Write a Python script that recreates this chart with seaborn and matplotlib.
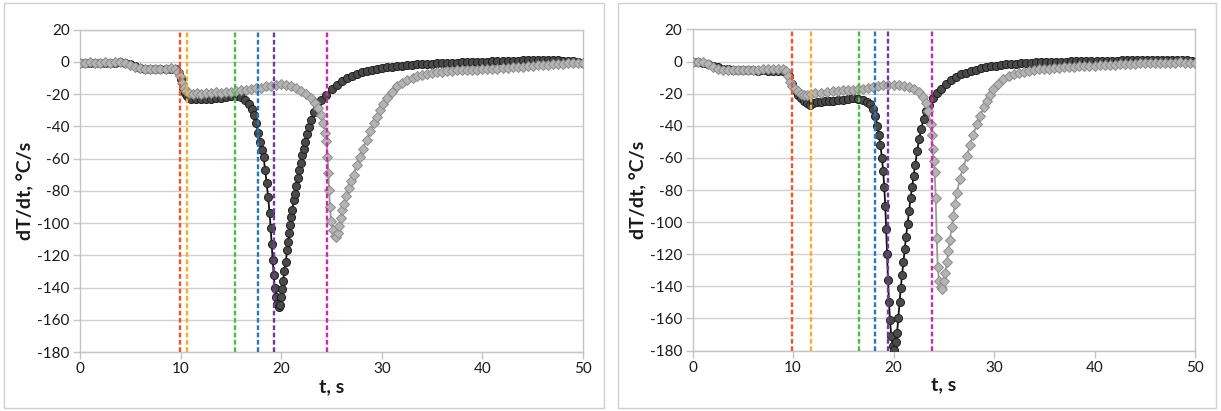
import matplotlib
matplotlib.use("Agg")
import matplotlib.pyplot as plt
from matplotlib.patches import Rectangle
import seaborn as sns
import pandas as pd

# ---------------- data ----------------
# Left panel, dark series (circles)
t_dark_a = [0, 0.5, 1, 1.5, 2, 2.5, 3, 3.5, 4, 4.5, 5, 5.5, 6, 6.5, 7, 7.5, 8, 8.5, 9, 9.5,
            9.8, 10.0, 10.2, 10.4, 10.6, 10.8, 11.0, 11.5, 12, 12.5, 13, 13.5, 14, 14.5, 15, 15.5,
            16, 16.4, 16.8, 17.1, 17.3, 17.5, 17.7, 17.9, 18.1, 18.25, 18.4, 18.55, 18.7, 18.85,
            18.95, 19.05, 19.15, 19.25, 19.35, 19.45, 19.6, 19.75, 19.9, 20.0, 20.1, 20.2, 20.3,
            20.45, 20.6, 20.7, 20.8, 20.9, 21.0, 21.1, 21.25, 21.35, 21.5, 21.65, 21.8, 21.95,
            22.1, 22.25, 22.4, 22.6, 22.8, 23.0, 23.3, 23.6, 24.0, 24.5, 25.0, 25.5, 26.0, 26.5,
            27, 27.5, 28, 28.5, 29, 29.5, 30, 30.5, 31, 31.5, 32, 32.5, 33, 33.5, 34, 34.5, 35,
            35.5, 36, 36.5, 37, 37.5, 38, 38.5, 39, 39.5, 40, 40.5, 41, 41.5, 42, 42.5, 43, 43.5,
            44, 44.5, 45, 45.5, 46, 46.5, 47, 47.5, 48, 48.5, 49, 49.5, 50]
v_dark_a = [-0.5, -1, -0.8, -1, -0.6, -0.8, -0.5, -0.7, -0.4, -0.6, -1.5, -2.8, -3.8, -4.2, -4.3,
            -4.2, -4.4, -4.2, -4.3, -4.8, -7, -11, -16, -19.5, -21.5, -22.5, -23, -23.4, -23.3,
            -23, -22.8, -22.5, -22.2, -21.8, -21.4, -21, -22, -23.5, -26, -29, -33, -38, -44, -50,
            -55, -59, -67, -75, -84, -94, -103, -113, -123, -132, -140, -146, -150, -152, -151,
            -146, -141, -136, -130, -124, -117, -112, -106, -101, -96, -92, -86, -82, -77, -72,
            -67, -63, -58, -54, -50, -45, -40.5, -36, -31, -27.5, -24, -20.5, -17, -14.5, -12,
            -10, -8.8, -7.6, -6.6, -5.8, -5, -4.4, -3.8, -3.4, -3.0, -2.7, -2.4, -2.1, -1.9,
            -1.7, -1.5, -1.3, -1.2, -1.0, -0.9, -0.8, -0.6, -0.5, -0.4, -0.3, -0.2, -0.1, 0, 0.1,
            0.2, 0.3, 0.4, 0.5, 0.6, 0.7, 0.8, 0.9, 1.0, 0.9, 1.0, 0.8, 0.9, 0.8, 0.7, 0.6, 0.4,
            0.1, -0.5]

# Left panel, gray series (diamonds)
t_gray_a = [0, 0.5, 1, 1.5, 2, 2.5, 3, 3.5, 4, 4.5, 5, 5.5, 6, 6.5, 7, 7.5, 8, 8.5, 9, 9.4,
            9.7, 9.9, 10.1, 10.3, 10.5, 10.8, 11.2, 11.6, 12, 12.5, 13, 13.5, 14, 14.5, 15, 15.5,
            16, 16.5, 17, 17.5, 18, 18.5, 19, 19.5, 20, 20.5, 21, 21.5, 22, 22.5, 23.0, 23.4,
            23.7, 24.0, 24.2, 24.4, 24.5, 24.6, 24.7, 24.75, 24.85, 24.95, 25.1, 25.3, 25.45,
            25.6, 25.75, 25.9, 26.05, 26.2, 26.45, 26.7, 26.95, 27.2, 27.5, 27.8, 28.1, 28.5,
            28.85, 29.2, 29.5, 29.8, 30.15, 30.5, 31.0, 31.5, 32.0, 32.5, 33.1, 33.5, 34, 34.5,
            35, 35.5, 36, 36.5, 37, 37.5, 38, 38.5, 39, 39.5, 40, 40.5, 41, 41.5, 42, 42.5, 43,
            43.5, 44, 44.5, 45, 45.5, 46, 46.5, 47, 47.5, 48, 48.5, 49, 49.5, 50]
v_gray_a = [-0.5, -0.8, -0.4, -0.9, -0.6, -0.3, -0.7, -0.4, -0.2, -0.8, -2, -3.2, -4, -4.5, -4.3,
            -4.6, -4.2, -4.4, -4.0, -4.5, -6.5, -9, -13, -16, -18, -19.2, -19.8, -19.5, -19.8,
            -19.3, -19.5, -19, -19.2, -18.8, -18.5, -18.2, -17.8, -17.3, -17, -16.5, -16, -15.3,
            -14.8, -14.3, -14.1, -14.5, -15.3, -16.5, -18, -20, -22.5, -25.5, -28.5, -33, -38,
            -44, -49, -59, -69, -79.5, -90, -99, -104.5, -108, -108.5, -106, -102, -97, -92, -88,
            -83, -78, -74, -70, -64, -59, -54, -48.5, -43, -38, -34, -30, -26, -22.5, -18.5, -15,
            -13, -11.5, -10, -9, -8, -7.3, -6.8, -6.4, -6.1, -5.8, -5.6, -5.4, -5.2, -5.1, -5.0,
            -4.9, -4.8, -4.6, -4.5, -4.3, -4.0, -3.8, -3.5, -3.2, -3.0, -2.8, -2.5, -2.2, -2.0,
            -1.8, -1.5, -1.3, -1.1, -1.0, -0.8, -0.7, -0.6]

# Right panel, dark series (circles)
t_dark_b = [0, 0.5, 1, 1.5, 2, 2.5, 3, 3.5, 4, 4.5, 5, 5.5, 6, 6.5, 7, 7.5, 8, 8.5, 9, 9.3, 9.6,
            9.9, 10.2, 10.5, 10.8, 11.1, 11.4, 11.7, 12.0, 12.4, 12.8, 13.2, 13.6, 14, 14.5, 15,
            15.5, 16.0, 16.5, 17.0, 17.4, 17.7, 18.0, 18.2, 18.4, 18.55, 18.7, 18.85, 18.97,
            19.08, 19.18, 19.27, 19.36, 19.45, 19.55, 19.65, 19.78, 19.92, 20.08, 20.22, 20.35,
            20.48, 20.6, 20.72, 20.85, 20.97, 21.1, 21.25, 21.4, 21.55, 21.7, 21.85, 22.0, 22.15,
            22.35, 22.55, 22.75, 23.0, 23.25, 23.5, 23.9, 24.3, 24.7, 25.2, 25.7, 26.2, 26.7,
            27.2, 27.7, 28.2, 28.7, 29.2, 29.7, 30.2, 30.7, 31.2, 31.7, 32.2, 32.7, 33.2, 33.7,
            34.2, 34.7, 35.2, 35.7, 36.2, 36.7, 37.2, 37.7, 38.2, 38.7, 39.2, 39.7, 40.2, 40.7,
            41.2, 41.7, 42.2, 42.7, 43.2, 43.7, 44.2, 44.7, 45.2, 45.7, 46.2, 46.7, 47.2, 47.7,
            48.2, 48.7, 49.2, 49.7, 50]
v_dark_b = [-0.5, -0.3, -0.8, -1.5, -2.5, -3.5, -4.3, -4.8, -5, -5.2, -5.3, -5.5, -5.4, -5.6,
            -5.5, -5.7, -5.6, -5.8, -5.8, -6.5, -9, -14, -18, -20.5, -22.5, -24.5, -26, -26.8,
            -25.8, -25.2, -25, -24.8, -24.6, -24.5, -24.2, -23.8, -23.3, -22.8, -23.5, -24.2, -25,
            -26.5, -29.5, -34, -40, -46, -52, -60, -68, -78, -90, -104, -120, -136, -150, -161,
            -171, -177, -179.5, -175, -169, -160, -150, -141, -133, -125, -117, -109, -101, -93,
            -85, -78, -71, -64.5, -56, -48.5, -42, -35.5, -30.5, -27, -22.5, -19.5, -17, -14,
            -11.5, -9.5, -8, -6.8, -5.8, -5, -4.2, -3.6, -3, -2.6, -2.2, -1.8, -1.5, -1.2, -1.0,
            -0.8, -0.6, -0.5, -0.4, -0.3, -0.2, -0.1, 0, 0, 0.1, 0.2, 0.2, 0.3, 0.3, 0.4, 0.4,
            0.5, 0.6, 0.6, 0.7, 0.7, 0.8, 0.8, 0.9, 0.9, 1.0, 1.0, 1.1, 1.0, 1.1, 1.2, 1.0, 0.8,
            0.4, -0.3]

# Right panel, gray series (diamonds)
t_gray_b = [0, 0.5, 1, 1.5, 2, 2.5, 3, 3.5, 4, 4.5, 5, 5.5, 6, 6.5, 7, 7.5, 8, 8.5, 9, 9.3, 9.5,
            9.7, 9.9, 10.2, 10.5, 10.8, 11.1, 11.4, 11.8, 12.2, 12.8, 13.4, 14, 14.5, 15, 15.5,
            16, 16.5, 17, 17.5, 18, 18.5, 19, 19.5, 20, 20.5, 21, 21.5, 22, 22.5, 22.9, 23.2,
            23.46, 23.7, 23.8, 23.9, 24.0, 24.1, 24.2, 24.3, 24.4, 24.55, 24.7, 24.85, 25.0,
            25.15, 25.3, 25.45, 25.6, 25.8, 25.95, 26.1, 26.3, 26.6, 26.95, 27.3, 27.6, 27.94,
            28.3, 28.6, 29.0, 29.3, 29.6, 29.93, 30.4, 30.9, 31.5, 32, 32.5, 33, 33.5, 34, 34.5,
            35, 35.5, 36, 36.5, 37, 37.5, 38, 38.5, 39, 39.5, 40, 40.5, 41, 41.5, 42, 42.5, 43,
            43.5, 44, 44.5, 45, 45.5, 46, 46.5, 47, 47.5, 48, 48.5, 49, 49.5, 50]
v_gray_b = [-0.3, 0, -0.5, -1.8, -3.2, -4.3, -5, -5.3, -5.2, -5.5, -5.4, -5.2, -5.5, -5.0, -4.8,
            -4.5, -4.6, -4.3, -4.5, -6, -9, -12.5, -15, -17, -18.5, -20, -21, -20.5, -20, -19.5,
            -19.3, -19.0, -18.6, -18.3, -18, -17.8, -17.5, -17.2, -16.8, -16.3, -15.8, -15.2,
            -14.8, -14.5, -14.4, -14.6, -15, -15.8, -17, -19, -22, -26, -31, -39, -46, -54.5,
            -62, -69, -85, -110, -128, -137, -140.5, -141.5, -137, -132, -125, -118, -111, -103,
            -96, -89, -82, -73, -66, -59, -52, -45.5, -39, -34, -28, -24.5, -20.5, -17.3, -14,
            -11, -9, -7.8, -6.8, -6.2, -5.7, -5.2, -4.8, -4.6, -4.3, -4, -3.8, -3.5, -3.3, -3.1,
            -2.9, -2.8, -2.6, -2.5, -2.3, -2.2, -2.0, -1.9, -1.7, -1.5, -1.3, -1.2, -1.0, -0.9,
            -0.8, -0.8, -0.7, -0.7, -0.6, -0.6, -0.5, -0.6, -0.8, -1.0]

# Vertical dashed markers (time, s)
vlines_a = [9.9, 10.65, 15.4, 17.7, 19.25, 24.6]
vlines_b = [9.95, 11.8, 16.6, 18.15, 19.45, 23.8]
vline_colors = ["#ef5527", "#f6b027", "#4dbd45", "#2677c0", "#6a3d9e", "#d02aa5"]

x_ticks = [0, 10, 20, 30, 40, 50]
y_ticks = [20, 0, -20, -40, -60, -80, -100, -120, -140, -160, -180]
x_label = "t, s"
y_label = "dT/dt, °C/s"

# ---------------- style ----------------
sns.set_style("white")
plt.rcParams["font.family"] = ["Lato", "DejaVu Sans"]

W, H = 1221, 411
fig = plt.figure(figsize=(W / 100, H / 100), dpi=100)

def px_axes(x0, y_top, x1, y_bot):
    return fig.add_axes([x0 / W, 1 - y_bot / H, (x1 - x0) / W, (y_bot - y_top) / H])

# panel frames
for (x0, y0, x1, y1) in [(4, 3, 604, 408), (618, 3, 1216, 408)]:
    fig.patches.append(Rectangle((x0 / W, 1 - y1 / H), (x1 - x0) / W, (y1 - y0) / H,
                                 transform=fig.transFigure, fill=False,
                                 edgecolor="#d0d0d0", linewidth=1.0))

ax_a = px_axes(80, 29.5, 583, 352)
ax_b = px_axes(692.5, 29.5, 1195, 350.5)

panels = [
    (ax_a, t_dark_a, v_dark_a, t_gray_a, v_gray_a, vlines_a),
    (ax_b, t_dark_b, v_dark_b, t_gray_b, v_gray_b, vlines_b),
]

for ax, td, vd, tg, vg, vl in panels:
    df_d = pd.DataFrame({"t": td, "v": vd})
    df_g = pd.DataFrame({"t": tg, "v": vg})
    sns.lineplot(data=df_d, x="t", y="v", ax=ax, color="#111111", linewidth=1.3,
                 marker="o", markersize=5.8, markerfacecolor="#4a4a4a",
                 markeredgecolor="#1e1e1e", markeredgewidth=0.7, zorder=3,
                 estimator=None, sort=False)
    sns.lineplot(data=df_g, x="t", y="v", ax=ax, color="#9a9a9a", linewidth=1.3,
                 marker="D", markersize=5.6, markerfacecolor="#b4b4b4",
                 markeredgecolor="#8c8c8c", markeredgewidth=0.7, zorder=4,
                 estimator=None, sort=False)
    for xv, c in zip(vl, vline_colors):
        ax.axvline(xv, color=c, linewidth=1.7, linestyle=(0, (2.0, 1.1)), zorder=5)

    ax.set_xlim(0, 50)
    ax.set_ylim(-180, 20)
    ax.set_xticks(x_ticks)
    ax.set_yticks(y_ticks)
    ax.set_yticklabels([str(v) for v in y_ticks])
    ax.grid(axis="y", color="#cfcfcf", linewidth=1.0)
    ax.grid(axis="x", visible=False)
    ax.set_axisbelow(True)
    for s in ax.spines.values():
        s.set_color("#c4c4c4")
        s.set_linewidth(1.0)
    ax.tick_params(axis="both", which="major", labelsize=11, colors="#c4c4c4",
                   labelcolor="#1a1a1a", length=5, width=1.0, direction="out",
                   left=True, bottom=True, pad=2.5)
    ax.set_xlabel(x_label, fontsize=14, fontweight="bold", color="#1a1a1a", labelpad=1)
    ax.set_ylabel(y_label, fontsize=14, fontweight="bold", color="#1a1a1a", labelpad=2)

fig.savefig("out.png", dpi=100)
